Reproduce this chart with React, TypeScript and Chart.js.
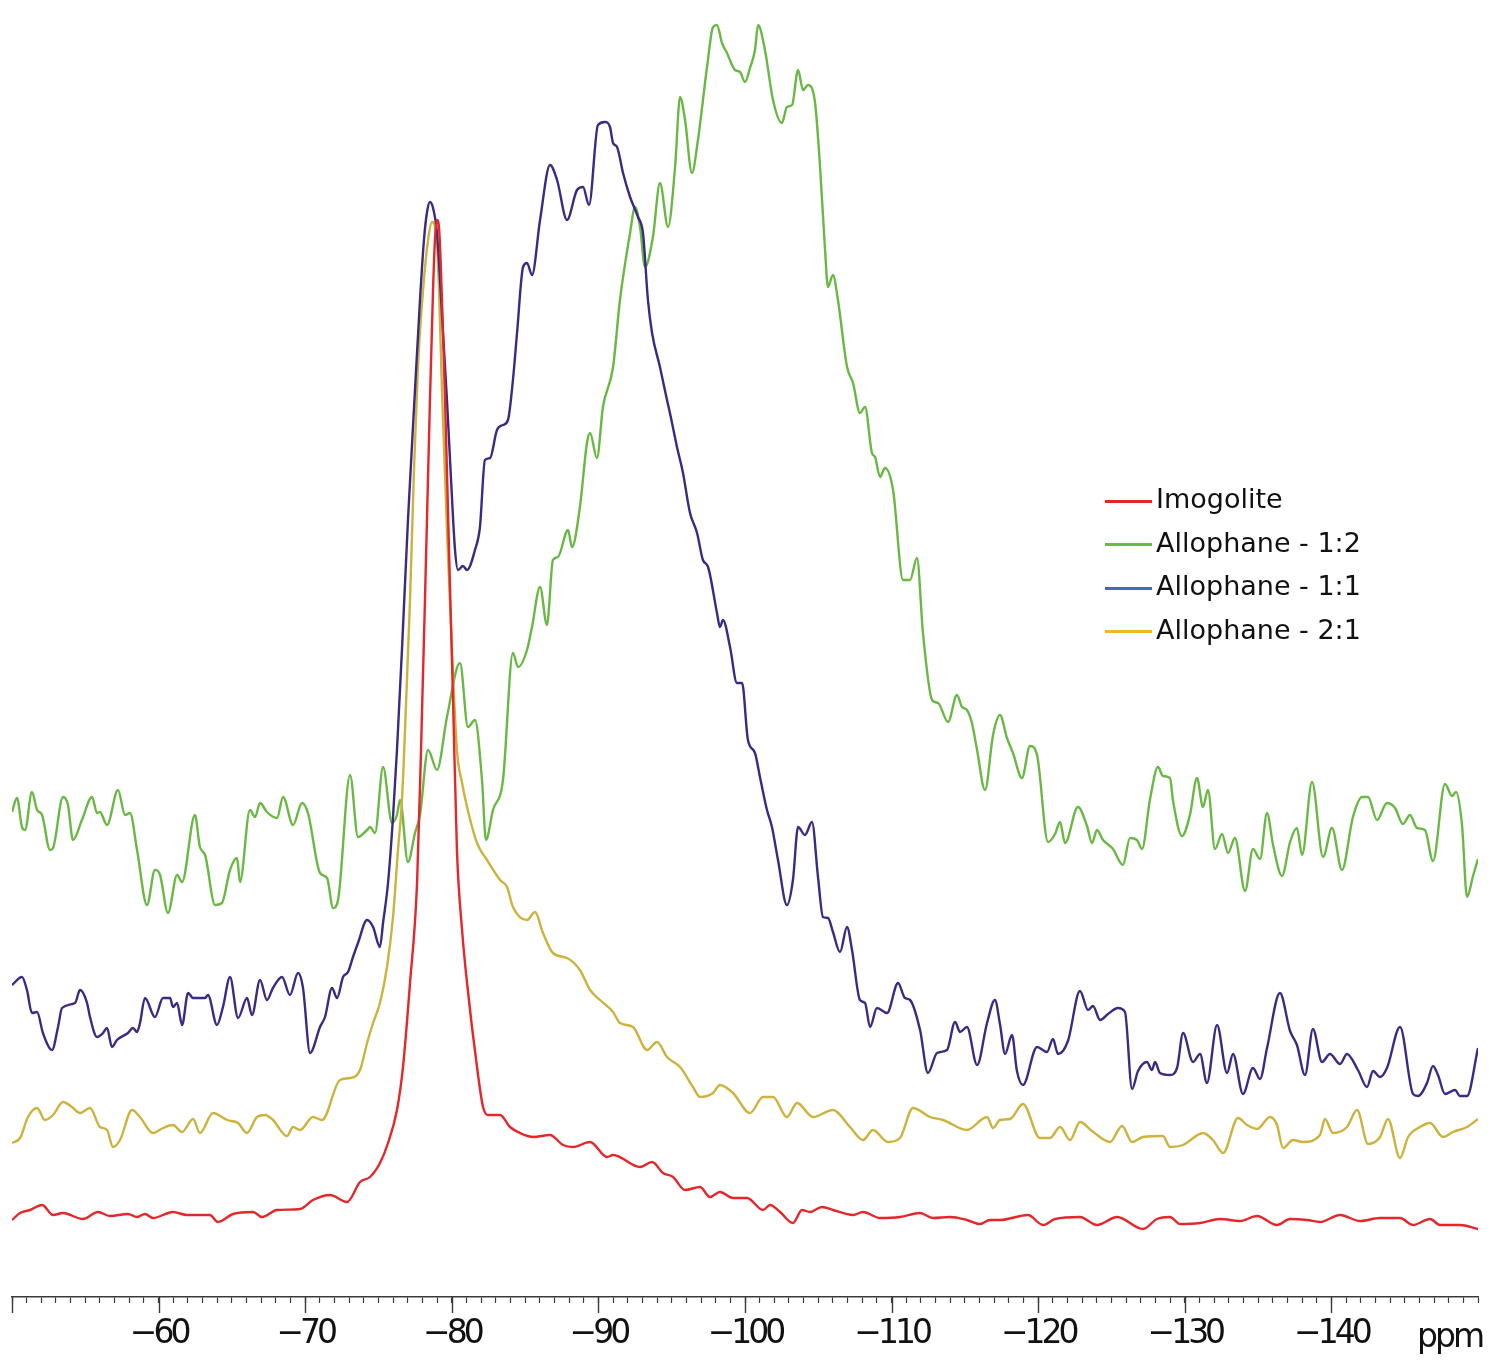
import React, { useEffect, useRef } from "react";
import { Chart, registerables } from "chart.js";

Chart.register(...registerables);

// ---------- data (x = chemical shift in ppm, y = intensity, arbitrary units) ----------
const imogolitePoints: [number, number][] = [
  [-50.0,7.7],[-50.55,8.4],[-51.23,8.7],[-52.05,9.2],[-52.8,8.2],[-53.48,8.4],[-54.84,7.8],[-55.87,8.5],[-56.68,8.1],[-57.91,8.3],[-58.53,8.0],[-59.07,8.3],[-59.62,7.9],[-60.98,8.5],[-61.94,8.2],[-63.5,8.2],[-64.05,7.5],[-65.08,8.3],[-66.44,8.5],[-67.05,8.0],[-68.08,8.7],[-69.65,8.8],[-70.53,9.7],[-71.69,10.2],[-72.85,9.5],[-73.74,11.5],[-74.42,12.0],[-75.1,13.4],[-75.65,15.4],[-76.26,18.7],[-76.67,23.0],[-77.15,31.4],[-77.63,41.4],[-77.9,54.7],[-78.17,69.7],[-78.51,89.7],[-78.72,100.7],[-78.85,105.7],[-78.99,107.7],[-79.13,106.9],[-79.33,99.7],[-79.54,89.7],[-79.81,74.7],[-80.08,60.0],[-80.35,44.7],[-80.7,36.7],[-81.04,31.4],[-81.72,23.0],[-82.13,19.0],[-82.47,18.2],[-83.29,18.2],[-83.97,17.0],[-84.65,16.4],[-85.54,16.0],[-86.7,16.2],[-87.59,15.2],[-88.27,15.0],[-89.43,15.5],[-90.59,14.0],[-91.0,14.2],[-92.84,13.0],[-93.66,13.5],[-94.41,12.4],[-95.09,12.0],[-95.91,10.7],[-96.93,11.0],[-97.61,10.0],[-98.29,10.5],[-99.18,9.9],[-100.14,9.9],[-101.23,8.7],[-101.71,9.2],[-102.39,8.5],[-103.27,7.4],[-103.89,8.7],[-104.43,8.5],[-105.25,9.0],[-106.0,8.7],[-107.37,8.2],[-108.05,8.5],[-109.21,7.9],[-110.57,8.0],[-111.94,8.4],[-112.82,7.9],[-113.98,8.0],[-115.14,7.7],[-116.03,7.3],[-116.71,7.7],[-117.39,7.7],[-119.3,8.2],[-120.33,7.2],[-121.15,7.8],[-122.85,8.0],[-124.01,7.2],[-125.38,8.0],[-127.15,6.8],[-128.1,7.8],[-128.99,8.0],[-129.67,7.3],[-131.04,7.4],[-132.4,7.8],[-133.77,7.6],[-134.93,8.1],[-136.29,7.2],[-137.18,7.8],[-138.34,7.7],[-139.22,7.5],[-140.59,8.2],[-141.95,7.6],[-143.32,7.9],[-144.68,7.9],[-145.57,7.2],[-146.73,7.8],[-147.41,7.2],[-148.77,7.2],[-150.0,6.8]
];

const allophane21Points: [number, number][] = [
  [-50.0,15.4],[-50.55,15.9],[-51.09,18.0],[-51.71,18.9],[-52.25,17.7],[-52.8,18.2],[-53.48,19.5],[-54.09,19.0],[-54.64,18.4],[-55.32,18.9],[-56.0,17.0],[-56.48,16.7],[-56.89,15.0],[-57.37,15.7],[-58.19,18.7],[-58.73,18.0],[-59.62,16.4],[-60.3,16.9],[-60.98,17.2],[-61.6,16.5],[-62.35,17.8],[-62.82,16.4],[-63.71,18.4],[-64.67,17.7],[-65.42,17.4],[-66.03,16.4],[-66.71,18.0],[-67.26,18.2],[-67.8,17.7],[-68.76,16.1],[-69.17,17.0],[-69.65,16.7],[-70.53,18.0],[-71.15,17.7],[-72.37,21.7],[-73.06,21.9],[-73.74,22.7],[-74.22,25.4],[-74.63,27.4],[-75.1,29.4],[-75.58,33.0],[-75.99,38.0],[-76.33,44.7],[-76.6,49.7],[-76.81,56.7],[-77.15,69.7],[-77.42,82.7],[-77.69,93.0],[-78.04,100.7],[-78.38,105.7],[-78.65,107.5],[-78.92,106.5],[-79.13,100.7],[-79.33,90.7],[-79.67,76.7],[-80.01,64.7],[-80.35,54.7],[-80.7,51.4],[-81.04,49.0],[-81.72,45.4],[-82.4,43.7],[-83.29,41.7],[-83.77,41.0],[-84.17,39.0],[-85.13,37.7],[-85.68,38.5],[-86.22,36.4],[-86.9,34.4],[-87.86,33.9],[-88.74,32.7],[-89.43,30.7],[-90.11,29.7],[-91.0,28.5],[-91.47,27.4],[-92.36,27.0],[-93.32,24.7],[-94.0,25.5],[-94.68,24.0],[-95.57,23.0],[-96.45,21.0],[-96.93,20.0],[-97.82,20.4],[-98.29,21.2],[-99.18,20.4],[-100.34,18.4],[-101.23,20.0],[-101.91,20.0],[-102.86,18.0],[-103.55,19.4],[-104.64,18.0],[-106.0,18.7],[-107.16,17.0],[-108.05,15.7],[-108.73,16.7],[-109.75,15.5],[-110.57,15.9],[-111.46,18.9],[-112.62,18.0],[-113.51,17.7],[-115.14,16.7],[-116.51,18.0],[-116.92,16.9],[-117.39,17.7],[-118.08,17.8],[-118.96,19.3],[-120.12,15.9],[-120.8,15.9],[-121.49,17.0],[-122.17,15.7],[-122.85,17.5],[-123.67,16.6],[-124.9,15.5],[-125.72,17.1],[-126.4,15.5],[-127.15,16.0],[-128.51,16.1],[-128.99,15.0],[-129.88,15.2],[-131.24,16.4],[-131.92,15.7],[-132.61,14.4],[-133.63,17.9],[-134.24,17.2],[-134.93,16.8],[-135.81,18.0],[-136.29,17.2],[-136.7,14.9],[-137.38,15.7],[-138.06,15.5],[-139.22,16.2],[-139.56,17.8],[-140.11,16.4],[-141.06,17.0],[-141.75,18.7],[-142.5,15.3],[-143.32,16.0],[-143.86,17.8],[-144.68,13.9],[-145.23,16.0],[-146.04,17.0],[-146.73,17.4],[-147.61,16.0],[-148.29,16.5],[-149.25,17.0],[-150.0,17.8]
];

const allophane11Points: [number, number][] = [
  [-50.0,31.2],[-50.68,32.0],[-51.02,30.7],[-51.36,28.4],[-51.71,28.5],[-52.11,26.4],[-52.73,24.7],[-53.14,27.0],[-53.41,28.9],[-54.3,29.4],[-54.64,30.7],[-55.12,29.4],[-55.32,28.0],[-55.8,26.0],[-56.21,26.4],[-56.48,26.9],[-56.82,25.0],[-57.16,25.7],[-57.91,26.4],[-58.25,26.9],[-58.53,26.5],[-58.73,27.4],[-59.07,29.9],[-59.75,28.0],[-60.3,29.9],[-60.78,29.9],[-60.98,29.0],[-61.26,29.4],[-61.6,27.2],[-62.01,30.4],[-62.35,29.9],[-63.17,29.9],[-63.37,30.2],[-63.98,27.2],[-64.39,29.0],[-64.87,32.0],[-65.42,27.9],[-66.03,29.9],[-66.37,28.2],[-66.92,31.7],[-67.39,29.7],[-67.8,30.9],[-68.42,32.0],[-68.96,30.2],[-69.51,32.4],[-69.85,30.9],[-70.33,24.4],[-71.01,27.0],[-71.35,28.0],[-71.83,30.9],[-72.17,29.9],[-72.58,32.0],[-72.92,32.5],[-73.26,34.0],[-73.6,35.4],[-74.22,37.7],[-74.63,37.0],[-75.1,35.0],[-75.31,37.4],[-75.65,41.4],[-75.99,48.0],[-76.26,54.7],[-76.6,64.7],[-77.01,77.7],[-77.49,90.7],[-77.83,99.7],[-78.1,105.7],[-78.31,108.5],[-78.51,109.5],[-78.72,108.9],[-78.99,106.4],[-79.4,96.4],[-79.67,89.7],[-79.95,81.7],[-80.22,74.7],[-80.42,72.7],[-80.76,73.1],[-81.04,72.7],[-81.58,74.7],[-81.92,77.0],[-82.26,83.7],[-82.61,83.9],[-83.08,86.7],[-83.49,87.2],[-83.83,87.7],[-84.17,91.7],[-84.45,96.4],[-84.86,103.0],[-85.13,103.4],[-85.47,102.2],[-86.02,107.7],[-86.7,113.2],[-87.18,111.7],[-87.86,107.7],[-88.54,110.7],[-88.95,111.0],[-89.36,109.2],[-89.97,117.2],[-90.45,117.5],[-90.79,117.0],[-91.0,115.4],[-91.27,115.0],[-91.68,112.4],[-92.16,110.0],[-92.7,108.0],[-93.04,106.4],[-93.38,99.7],[-93.66,96.4],[-94.2,93.0],[-94.68,89.7],[-94.88,88.4],[-95.36,85.0],[-95.77,82.4],[-96.25,78.4],[-96.73,76.4],[-97.13,73.7],[-97.48,73.0],[-98.09,68.4],[-98.29,67.0],[-98.5,67.7],[-98.98,65.0],[-99.45,61.4],[-99.8,61.4],[-100.2,55.7],[-100.68,54.4],[-101.02,52.0],[-101.5,48.7],[-101.84,47.0],[-102.25,43.7],[-102.86,39.2],[-103.27,41.7],[-103.62,47.0],[-104.09,46.2],[-104.57,47.5],[-104.98,42.0],[-105.32,38.0],[-105.66,37.9],[-106.0,36.5],[-106.48,34.5],[-106.96,37.0],[-107.3,34.7],[-107.84,29.7],[-108.19,29.4],[-108.53,27.0],[-109.0,28.9],[-109.69,28.4],[-110.44,31.4],[-110.91,29.9],[-111.26,29.7],[-111.94,26.7],[-112.48,22.4],[-113.1,24.4],[-113.78,24.7],[-114.33,27.5],[-114.67,26.5],[-115.14,27.0],[-115.83,23.2],[-116.51,27.4],[-117.05,29.7],[-117.39,27.3],[-117.74,24.3],[-118.21,26.2],[-118.55,22.6],[-118.96,21.2],[-119.92,25.0],[-120.6,24.5],[-121.01,25.8],[-121.35,24.3],[-122.03,25.6],[-122.85,30.6],[-123.4,28.7],[-123.74,29.1],[-124.22,27.7],[-124.76,28.3],[-125.44,28.9],[-125.92,28.5],[-126.4,20.8],[-126.81,22.6],[-127.42,23.5],[-127.76,22.7],[-127.97,23.5],[-128.31,22.4],[-128.99,22.2],[-129.47,22.9],[-129.88,26.4],[-130.56,23.5],[-131.04,24.3],[-131.51,21.4],[-132.2,27.2],[-132.88,22.4],[-133.29,24.3],[-133.97,20.3],[-134.65,22.9],[-135.13,21.8],[-135.61,24.9],[-136.49,30.4],[-137.18,26.6],[-137.65,25.2],[-138.2,22.2],[-138.74,26.8],[-139.36,23.5],[-139.9,24.3],[-140.59,23.3],[-141.06,24.3],[-141.81,22.7],[-142.43,21.0],[-142.84,22.6],[-143.32,22.0],[-143.79,22.9],[-144.68,27.0],[-145.57,20.3],[-145.91,20.1],[-146.52,21.4],[-146.93,23.1],[-147.27,22.2],[-147.75,20.3],[-148.43,20.7],[-148.77,20.1],[-149.25,20.1],[-150.0,24.9]
];

const allophane12Points: [number, number][] = [
  [-50.0,48.5],[-50.34,49.9],[-50.68,47.0],[-50.89,46.7],[-51.36,50.5],[-51.71,48.7],[-52.05,48.2],[-52.59,44.7],[-52.8,44.9],[-53.48,50.0],[-53.82,49.2],[-54.16,45.7],[-54.77,47.7],[-55.46,50.0],[-55.8,48.4],[-56.0,48.5],[-56.48,47.2],[-57.23,50.7],[-57.71,48.2],[-58.05,48.4],[-58.53,44.7],[-59.21,39.2],[-59.75,42.7],[-60.1,42.2],[-60.64,38.4],[-61.26,42.2],[-61.6,41.5],[-62.48,48.2],[-62.82,45.0],[-63.17,44.2],[-63.85,39.2],[-64.32,39.4],[-64.87,42.7],[-65.35,43.9],[-65.55,41.5],[-66.23,48.7],[-66.58,48.0],[-66.92,49.4],[-67.39,48.5],[-68.08,47.9],[-68.49,50.0],[-69.17,47.2],[-69.78,49.4],[-70.19,48.4],[-71.01,42.4],[-71.49,41.9],[-71.9,38.9],[-72.24,39.7],[-73.06,52.2],[-73.6,46.0],[-74.22,46.7],[-74.42,47.0],[-74.76,46.4],[-75.31,53.0],[-75.92,47.4],[-76.26,48.2],[-76.47,49.7],[-77.01,43.5],[-77.49,46.4],[-77.83,48.2],[-78.38,54.7],[-78.99,52.7],[-79.67,58.0],[-80.56,63.4],[-81.1,57.0],[-81.58,57.7],[-82.06,51.7],[-82.33,45.7],[-82.81,48.7],[-83.49,51.7],[-84.17,64.4],[-84.52,63.0],[-85.13,64.7],[-85.47,67.0],[-86.02,71.0],[-86.49,67.2],[-86.9,73.7],[-87.24,74.0],[-87.93,76.7],[-88.2,75.0],[-88.74,79.0],[-89.22,85.4],[-89.43,86.4],[-89.9,83.9],[-90.31,89.0],[-91.0,93.0],[-91.47,99.7],[-92.16,106.4],[-92.5,109.0],[-92.84,107.0],[-93.18,103.0],[-93.72,106.0],[-94.2,111.4],[-94.75,107.0],[-95.23,113.0],[-95.57,120.0],[-95.91,117.7],[-96.38,112.4],[-96.79,115.7],[-97.41,123.0],[-97.82,127.0],[-98.09,127.2],[-98.43,125.4],[-98.77,124.4],[-99.32,122.7],[-99.66,122.5],[-100.0,121.5],[-100.34,122.9],[-100.68,124.7],[-100.89,127.2],[-101.36,124.7],[-101.91,119.7],[-102.52,117.4],[-102.86,119.0],[-103.21,119.2],[-103.62,122.7],[-103.96,120.7],[-104.3,121.2],[-104.78,119.4],[-105.12,113.0],[-105.46,104.7],[-105.66,101.0],[-106.0,102.2],[-106.34,99.7],[-106.96,93.0],[-107.37,91.4],[-107.84,88.4],[-108.19,89.0],[-108.66,84.4],[-108.87,84.0],[-109.21,82.0],[-109.55,82.9],[-110.1,80.7],[-110.78,71.7],[-111.26,71.7],[-111.73,73.9],[-112.14,66.4],[-112.76,59.7],[-113.17,59.4],[-113.85,57.5],[-114.46,60.2],[-114.8,59.0],[-115.14,58.7],[-115.48,57.4],[-115.83,54.7],[-116.37,50.7],[-116.92,56.2],[-117.39,58.2],[-117.87,55.9],[-118.28,54.4],[-118.89,51.9],[-119.44,55.1],[-119.92,54.2],[-120.67,45.5],[-121.15,46.3],[-121.49,47.5],[-121.83,45.4],[-122.71,49.0],[-123.33,47.1],[-123.67,45.4],[-124.01,46.7],[-124.42,45.7],[-125.1,44.8],[-125.78,43.2],[-126.26,45.9],[-126.74,45.7],[-127.08,44.8],[-127.63,49.8],[-128.17,53.0],[-128.51,52.1],[-128.99,51.9],[-129.2,49.6],[-129.81,46.1],[-130.35,48.2],[-130.83,51.9],[-131.24,49.0],[-131.58,50.7],[-132.06,44.8],[-132.54,46.3],[-132.95,44.4],[-133.42,45.9],[-134.11,40.6],[-134.65,44.8],[-135.13,43.8],[-135.61,48.4],[-136.02,45.2],[-136.63,42.1],[-137.18,45.5],[-137.65,46.9],[-138.0,44.2],[-138.68,51.5],[-139.43,44.0],[-140.04,46.9],[-140.72,42.7],[-141.47,48.0],[-142.09,50.0],[-142.5,50.0],[-143.11,47.7],[-143.79,49.4],[-144.34,48.9],[-144.88,47.3],[-145.36,48.2],[-145.84,46.9],[-146.38,46.7],[-146.93,43.6],[-147.75,51.3],[-148.23,50.1],[-148.5,50.5],[-148.91,47.2],[-149.25,40.0],[-149.66,42.1],[-150.0,43.8]
];

const seriesLabels = ["Imogolite", "Allophane - 1:2", "Allophane - 1:1", "Allophane - 2:1"];
const majorTickValues = [-50, -60, -70, -80, -90, -100, -110, -120, -130, -140];
const axisUnit = "ppm";

// ---------- styling ----------
const LINE_COLORS = {
  imogolite: "#e5262b",
  a12: "#6ab844",
  a11: "#3a2a83",
  a21: "#cdb23c",
};
const LEGEND_COLORS = ["#e3262b", "#6cb844", "#3d6dbf", "#f2b62c"];

const majorTickPlugin = {
  id: "majorTicks",
  beforeDraw(chart: any) {
    chart.ctx.letterSpacing = "-4px";
  },
  afterDraw(chart: any) {
    const ctx = chart.ctx;
    const xs = chart.scales.x;
    ctx.save();
    ctx.strokeStyle = "#3a3a3a";
    ctx.lineWidth = 1.4;
    for (const v of majorTickValues) {
      const px = Math.round(xs.getPixelForValue(v)) + 0.5;
      ctx.beginPath();
      ctx.moveTo(px, xs.top);
      ctx.lineTo(px, xs.top + 16);
      ctx.stroke();
    }
    ctx.restore();
    ctx.letterSpacing = "0px";
  },
};

const toXY = (pts: [number, number][]) => pts.map(([x, y]) => ({ x, y }));

export default function App() {
  const canvasRef = useRef<HTMLCanvasElement | null>(null);

  useEffect(() => {
    if (!canvasRef.current) return;
    const common = {
      pointRadius: 0,
      borderWidth: 2.4,
      cubicInterpolationMode: "monotone" as const,
      fill: false,
      borderJoinStyle: "round" as const,
    };
    const chart = new Chart(canvasRef.current, {
      type: "line",
      data: {
        datasets: [
          { label: seriesLabels[0], data: toXY(imogolitePoints), borderColor: LINE_COLORS.imogolite, ...common },
          { label: seriesLabels[2], data: toXY(allophane11Points), borderColor: LINE_COLORS.a11, ...common },
          { label: seriesLabels[3], data: toXY(allophane21Points), borderColor: LINE_COLORS.a21, ...common },
          { label: seriesLabels[1], data: toXY(allophane12Points), borderColor: LINE_COLORS.a12, ...common },
        ],
      },
      options: {
        responsive: false,
        animation: false,
        events: [],
        layout: { padding: { left: 12, right: 16, top: 10, bottom: 0 } },
        plugins: { legend: { display: false }, tooltip: { enabled: false } },
        scales: {
          x: {
            type: "linear",
            reverse: true,
            min: -150,
            max: -50,
            afterFit: (s: any) => {
              s.height = 64;
            },
            border: { display: true, color: "#3a3a3a", width: 1.5 },
            grid: { drawOnChartArea: false, drawTicks: true, tickLength: 6, tickColor: "#3a3a3a", tickWidth: 1.2 },
            ticks: {
              stepSize: 1,
              autoSkip: false,
              maxRotation: 0,
              minRotation: 0,
              padding: 12,
              color: "#111",
              font: { family: "DejaVu Sans", size: 33 },
              callback: (v: any) => {
                const n = Math.round(Number(v));
                return n % 10 === 0 && n > -150 && n < -50 ? "\u2212" + Math.abs(n) : "";
              },
            },
          },
          y: { display: false, min: 0, max: 128.7 },
        },
      },
      plugins: [majorTickPlugin],
    });
    return () => chart.destroy();
  }, []);

  const legendBaselines = [508, 551.5, 595, 638.5];

  return (
    <div style={{ position: "fixed", left: 0, top: 0, width: 1494, height: 1361, background: "#fff", overflow: "hidden" }}>
      <canvas ref={canvasRef} width={1494} height={1361} style={{ display: "block" }} />
      {seriesLabels.map((label, i) => (
        <React.Fragment key={label}>
          <div
            style={{
              position: "absolute",
              left: 1105,
              top: legendBaselines[i] - 8.5,
              width: 47,
              height: 3,
              background: LEGEND_COLORS[i],
            }}
          />
          <div
            style={{
              position: "absolute",
              left: 1156,
              top: legendBaselines[i] - 23,
              fontFamily: "'DejaVu Sans', sans-serif",
              fontSize: 27,
              lineHeight: "27px",
              color: "#111",
              whiteSpace: "pre",
            }}
          >
            {label}
          </div>
        </React.Fragment>
      ))}
      <div
        style={{
          position: "absolute",
          left: 1417,
          top: 1319,
          fontFamily: "'DejaVu Sans', sans-serif",
          fontSize: 33,
          lineHeight: "33px",
          letterSpacing: "-3px",
          color: "#111",
        }}
      >
        {axisUnit}
      </div>
    </div>
  );
}
